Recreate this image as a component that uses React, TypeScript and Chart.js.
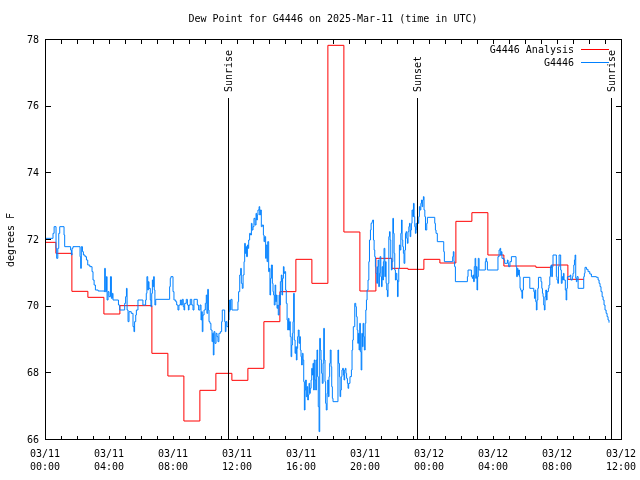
import { useEffect, useRef } from 'react';
import { Chart, registerables } from 'chart.js';

Chart.register(...registerables);

const TITLE = 'Dew Point for G4446 on 2025-Mar-11 (time in UTC)';
const Y_AXIS_LABEL = 'degrees F';
const SERIES_NAMES = ['G4446 Analysis', 'G4446'];
const SERIES_COLORS = ['#ff0000', '#0080ff'];

// hours since 2025-03-11 00:00 UTC
const X_MIN = 0;
const X_MAX = 36;
const X_STEP = 4;
const X_TICK_LABELS: string[][] = [
  ['03/11', '00:00'], ['03/11', '04:00'], ['03/11', '08:00'], ['03/11', '12:00'],
  ['03/11', '16:00'], ['03/11', '20:00'], ['03/12', '00:00'], ['03/12', '04:00'],
  ['03/12', '08:00'], ['03/12', '12:00'],
];
const Y_MIN = 66;
const Y_MAX = 78;
const Y_STEP = 2;

const EVENT_NAMES = ['Sunrise', 'Sunset', 'Sunrise'];
const EVENT_HOURS = [11.42, 23.23, 35.37];

// [hour, °F]
const ANALYSIS_POINTS: [number, number][] = [
  [0, 71.93], [0.68, 71.6], [1.68, 70.46], [2.68, 70.28], [3.68, 69.78], [4.68, 70.03],
  [5.68, 70.03], [6.68, 68.6], [7.68, 67.92], [8.68, 66.57], [9.68, 67.49], [10.68, 68.0],
  [11.68, 67.79], [12.68, 68.15], [13.68, 69.55], [14.68, 70.45], [15.68, 71.42], [16.68, 70.7],
  [17.68, 77.84], [18.68, 72.24], [19.68, 70.47], [20.68, 71.45], [21.68, 71.15], [22.68, 71.12],
  [23.68, 71.42], [24.68, 71.31], [25.68, 72.56], [26.68, 72.82], [27.68, 71.55], [28.68, 71.22],
  [29.68, 71.22], [30.68, 71.18], [31.68, 71.25], [32.68, 70.82], [33.68, 70.82],
];

const OBSERVED_POINTS: [number, number][] = [
  [0, 72.05], [0.5, 72.2], [0.57, 72.4], [0.69, 71.75], [0.73, 71.45], [0.8, 71.75], [0.86, 72.2], [0.92, 72.4],
  [1.19, 72.15], [1.23, 71.8], [1.6, 71.7], [1.65, 71.55], [1.69, 71.75], [1.75, 71.8], [2.19, 71.5], [2.23, 71.15],
  [2.27, 71.8], [2.34, 71.65], [2.4, 71.55], [2.5, 71.5], [2.59, 71.4], [2.67, 71.25], [2.8, 71.2], [2.94, 71.05],
  [3.0, 70.8], [3.07, 70.65], [3.15, 70.5], [3.32, 70.47], [3.71, 70.45], [3.73, 71.15], [3.77, 70.45], [3.84, 70.9],
  [3.88, 70.2], [3.94, 70.45], [4.0, 70.3], [4.09, 70.9], [4.15, 70.25], [4.21, 70.4], [4.25, 70.2], [4.59, 70.05],
  [4.67, 69.9], [4.98, 70.1], [5.04, 70.3], [5.09, 70.55], [5.13, 69.9], [5.19, 69.55], [5.25, 69.85],
  [5.39, 69.8], [5.5, 69.4], [5.56, 69.25], [5.6, 69.55], [5.67, 69.75], [5.71, 69.9], [5.81, 70.2], [6.12, 70.05],
  [6.29, 70.2], [6.33, 70.4], [6.37, 70.9], [6.42, 70.5], [6.46, 70.75], [6.5, 70.55], [6.58, 70.2], [6.62, 70.0],
  [6.67, 70.4], [6.71, 70.8], [6.75, 70.6], [6.79, 70.9], [6.83, 70.5], [6.87, 70.05], [6.92, 70.22], [7.79, 70.6],
  [7.83, 70.85], [7.87, 70.9], [8.0, 70.45], [8.06, 70.2], [8.17, 70.15], [8.23, 70.05], [8.31, 69.9], [8.37, 70.05],
  [8.46, 70.2], [8.52, 70.05], [8.58, 70.22], [8.64, 70.0], [8.69, 69.9], [8.73, 70.1], [8.83, 70.22], [8.9, 70.05],
  [8.96, 69.9], [9.0, 70.05], [9.08, 70.22], [9.17, 70.05], [9.25, 69.9], [9.31, 70.22], [9.52, 70.05], [9.6, 69.9],
  [9.69, 70.05], [9.75, 69.6], [9.79, 69.85], [9.83, 69.25], [9.87, 69.75], [9.94, 69.9], [10.02, 70.1], [10.08, 70.35],
  [10.12, 69.8], [10.17, 70.52], [10.21, 69.9], [10.25, 69.55], [10.31, 69.5], [10.37, 69.3], [10.44, 68.95], [10.48, 69.2],
  [10.52, 68.55], [10.56, 69.25], [10.62, 68.9], [10.69, 69.2], [10.75, 69.1], [10.81, 68.95], [10.87, 69.2], [10.96, 69.25],
  [11.04, 69.55], [11.08, 69.9], [11.23, 69.55], [11.27, 69.25], [11.31, 69.55], [11.37, 69.4], [11.46, 69.6], [11.5, 69.85],
  [11.54, 70.2], [11.58, 69.9], [11.62, 70.22], [11.69, 69.9],
  [12.06, 70.15], [12.1, 70.45], [12.17, 70.95], [12.23, 71.15], [12.27, 70.7], [12.33, 70.55], [12.38, 70.95], [12.44, 71.35],
  [12.48, 71.9], [12.52, 71.6], [12.56, 71.8], [12.6, 71.5], [12.65, 71.85], [12.69, 71.75], [12.73, 72.0], [12.79, 72.2],
  [12.85, 72.15], [12.9, 72.5], [12.94, 72.3], [13.0, 72.4], [13.06, 72.65], [13.13, 72.45], [13.19, 72.8], [13.23, 72.6],
  [13.27, 72.75], [13.31, 72.9], [13.38, 73.0], [13.42, 72.75], [13.46, 72.9], [13.52, 72.4], [13.58, 72.45], [13.65, 72.15],
  [13.69, 71.95], [13.73, 72.1], [13.79, 71.45], [13.83, 71.85], [13.88, 71.35], [13.92, 71.95], [13.98, 71.05], [14.02, 71.15],
  [14.06, 70.35], [14.1, 70.85], [14.15, 71.25], [14.21, 70.7], [14.25, 70.45], [14.29, 70.35], [14.33, 70.05], [14.38, 70.65],
  [14.42, 70.15], [14.46, 70.35], [14.5, 69.95], [14.54, 70.05], [14.58, 69.75], [14.63, 70.35], [14.67, 70.05], [14.71, 70.75],
  [14.77, 70.95], [14.81, 70.35], [14.85, 70.85], [14.9, 71.2], [14.94, 71.0],
  [14.98, 71.05], [15.04, 70.5], [15.08, 70.1], [15.13, 69.6], [15.17, 69.3], [15.21, 69.65], [15.25, 69.3], [15.29, 69.55],
  [15.33, 69.1], [15.38, 68.5], [15.42, 68.85], [15.46, 69.2], [15.5, 69.55], [15.54, 70.4], [15.58, 69.0], [15.63, 68.6],
  [15.67, 68.8], [15.71, 68.4], [15.75, 68.75], [15.79, 69.1], [15.83, 69.3], [15.88, 68.9], [15.92, 69.1], [15.96, 68.7],
  [16.0, 68.5], [16.04, 68.25], [16.08, 68.6], [16.13, 68.4], [16.17, 67.75], [16.21, 66.9], [16.25, 67.5], [16.29, 67.8],
  [16.33, 67.3], [16.38, 67.6], [16.42, 67.2], [16.46, 67.35], [16.5, 67.7], [16.54, 67.4], [16.58, 67.55], [16.63, 67.8],
  [16.67, 68.15], [16.71, 67.95], [16.75, 68.3], [16.79, 67.5], [16.83, 68.4], [16.88, 67.8], [16.92, 67.5], [16.96, 68.4],
  [17.0, 68.7], [17.04, 67.9], [17.08, 67.0], [17.13, 66.25], [17.17, 69.05], [17.21, 68.7], [17.25, 68.4], [17.29, 68.0],
  [17.33, 67.7], [17.38, 68.3], [17.42, 69.35], [17.46, 68.4], [17.5, 67.75], [17.54, 67.1], [17.58, 66.9], [17.63, 67.4],
  [17.67, 67.8], [17.71, 67.3], [17.75, 67.9], [17.79, 68.3], [17.83, 68.7], [17.88, 68.2], [17.92, 67.6], [17.96, 67.25],
  [18.0, 67.15], [18.31, 68.7], [18.35, 68.3], [18.4, 67.9], [18.44, 67.3], [18.48, 67.5], [18.52, 67.9], [18.56, 68.1],
  [18.6, 68.15], [18.65, 67.95], [18.69, 67.8], [18.73, 68.1], [18.77, 68.15], [18.81, 68.0], [18.85, 67.85], [18.9, 67.7],
  [18.94, 67.55], [18.98, 67.7], [19.06, 67.9], [19.15, 68.1], [19.19, 68.7], [19.23, 69.0], [19.27, 69.4],
  [19.36, 70.1], [19.42, 70.0], [19.46, 69.7], [19.51, 69.3], [19.55, 68.9], [19.59, 69.2], [19.63, 68.7], [19.67, 69.5],
  [19.71, 68.65], [19.76, 68.1], [19.8, 69.2], [19.84, 68.8], [19.88, 69.5], [19.92, 69.1], [19.96, 68.7], [20.01, 69.5],
  [20.05, 69.9], [20.09, 70.2], [20.13, 70.5], [20.19, 70.8], [20.24, 71.35], [20.28, 72.0], [20.34, 72.3], [20.38, 72.5],
  [20.44, 72.55], [20.48, 72.6], [20.53, 72.0], [20.57, 71.7], [20.61, 71.5], [20.65, 71.2], [20.69, 71.0], [20.74, 70.7],
  [20.78, 71.2], [20.82, 71.4], [20.86, 70.6], [20.9, 71.0], [20.94, 71.5], [20.99, 70.9], [21.03, 70.6], [21.07, 71.2],
  [21.11, 70.8], [21.15, 71.35], [21.19, 71.75], [21.24, 70.9], [21.28, 71.35], [21.32, 70.7], [21.36, 70.5], [21.4, 70.3],
  [21.44, 70.7], [21.49, 72.1], [21.53, 72.25], [21.57, 72.0], [21.61, 71.45], [21.65, 71.1], [21.69, 71.35], [21.74, 72.65],
  [21.78, 72.2], [21.82, 71.6], [21.86, 71.1], [21.9, 70.8], [21.94, 71.0], [21.99, 70.8], [22.03, 70.3], [22.07, 70.75],
  [22.11, 71.15], [22.15, 71.85], [22.19, 71.7], [22.24, 72.2], [22.28, 72.6], [22.32, 72.0], [22.36, 71.8], [22.4, 71.6],
  [22.44, 71.3], [22.49, 71.7], [22.53, 72.2], [22.57, 72.25], [22.61, 72.05], [22.65, 71.9], [22.69, 72.25], [22.74, 72.4],
  [22.78, 72.5], [22.82, 72.1], [22.86, 72.3], [22.9, 72.5], [22.94, 72.9], [22.99, 72.7], [23.03, 73.1], [23.07, 72.7],
  [23.11, 72.4], [23.15, 72.2], [23.19, 72.5], [23.24, 72.3], [23.28, 72.6], [23.32, 72.5], [23.36, 72.7], [23.4, 73.0],
  [23.44, 72.9], [23.49, 73.1], [23.53, 73.2], [23.57, 73.0], [23.61, 73.2], [23.65, 73.3], [23.69, 72.9], [23.74, 72.7],
  [23.78, 72.3], [23.86, 72.5], [23.9, 72.68],
  [24.36, 72.5], [24.4, 72.3], [24.44, 72.2], [24.52, 71.95], [24.92, 71.65], [24.96, 71.35], [25.48, 71.5], [25.52, 71.65],
  [25.56, 71.35], [25.6, 71.2], [25.65, 70.75], [26.4, 70.9], [26.44, 71.1], [26.65, 70.9], [26.71, 70.85], [26.75, 70.95],
  [26.79, 70.75], [26.83, 71.2], [26.88, 71.45], [26.92, 70.85], [26.96, 71.2], [27.0, 70.5], [27.04, 70.9], [27.08, 71.45],
  [27.13, 71.1], [27.52, 71.35], [27.56, 71.45], [27.6, 71.35], [27.65, 71.1], [28.31, 71.5], [28.38, 71.7], [28.44, 71.75],
  [28.48, 71.55], [28.52, 71.65], [28.56, 71.45], [28.69, 71.4], [28.73, 71.3], [28.9, 71.4], [28.94, 71.3], [28.98, 71.2],
  [29.06, 71.35], [29.15, 71.5], [29.44, 71.2], [29.48, 70.9], [29.52, 71.15], [29.56, 70.95], [29.6, 71.1], [29.65, 70.9],
  [29.69, 70.55], [29.73, 70.5], [29.77, 70.45], [29.81, 70.25], [29.85, 70.5], [29.9, 70.88],
  [30.3, 70.55], [30.55, 70.45], [30.59, 70.25], [30.63, 70.5], [30.67, 70.15], [30.71, 69.9], [30.75, 70.2], [30.8, 70.55],
  [30.84, 70.88], [31.0, 70.75], [31.05, 70.55], [31.09, 70.4], [31.13, 70.3], [31.17, 70.05], [31.21, 69.9], [31.25, 70.3],
  [31.3, 70.5], [31.34, 70.2], [31.38, 70.45], [31.46, 70.55], [31.5, 70.65], [31.55, 70.9], [31.59, 71.2], [31.63, 71.25],
  [31.67, 70.9], [31.71, 71.2], [31.75, 71.55], [31.96, 70.9], [32.0, 70.8], [32.05, 70.7], [32.09, 71.2], [32.13, 71.55],
  [32.23, 71.1], [32.27, 70.7], [32.32, 70.9], [32.36, 70.8], [32.4, 71.0], [32.44, 70.8], [32.52, 70.5], [32.57, 70.2],
  [32.61, 70.55], [32.65, 70.9], [32.82, 70.95], [32.86, 70.8], [32.96, 70.9], [33.0, 71.0], [33.05, 71.25], [33.09, 71.4],
  [33.13, 71.55], [33.17, 70.85], [33.21, 70.75], [33.25, 70.9], [33.32, 70.55], [33.67, 70.9], [33.71, 71.0], [33.75, 71.18],
  [33.84, 71.12], [33.94, 71.05], [34.05, 70.98], [34.15, 70.9], [34.46, 70.88], [34.57, 70.8], [34.63, 70.7], [34.69, 70.6],
  [34.75, 70.45], [34.82, 70.3], [34.88, 70.2], [34.94, 70.05], [35.0, 69.9], [35.07, 69.8], [35.13, 69.7], [35.19, 69.6],
  [35.25, 69.52],
];

const FONT = '"DejaVu Sans Mono", monospace';

const gnuplotDecor = {
  id: 'gnuplotDecor',
  afterDatasetsDraw(chart: any) {
    const { ctx, chartArea } = chart;
    const xs = chart.scales.x;
    const ys = chart.scales.y;
    const L = Math.round(chartArea.left);
    const R = Math.round(chartArea.right);
    const T = Math.round(chartArea.top);
    const B = Math.round(chartArea.bottom);
    ctx.save();
    ctx.strokeStyle = '#000';
    ctx.fillStyle = '#000';
    ctx.lineWidth = 1;
    ctx.font = `10px ${FONT}`;

    // sunrise / sunset markers
    EVENT_HOURS.forEach((h, i) => {
      const px = Math.round(xs.getPixelForValue(h)) + 0.5;
      ctx.beginPath();
      ctx.moveTo(px, B);
      ctx.lineTo(px, T + 58);
      ctx.stroke();
      ctx.save();
      ctx.translate(px + 1, T + 52);
      ctx.rotate(-Math.PI / 2);
      ctx.textAlign = 'left';
      ctx.textBaseline = 'middle';
      ctx.fillText(EVENT_NAMES[i], 0, 0);
      ctx.restore();
    });

    // frame
    ctx.strokeRect(L + 0.5, T - 0.5, R - L, B - T);

    // inward ticks, mirrored
    ctx.beginPath();
    for (let h = X_MIN; h <= X_MAX; h += 1) {
      const px = Math.round(xs.getPixelForValue(h)) + 0.5;
      ctx.moveTo(px, B);
      ctx.lineTo(px, B - 4);
      ctx.moveTo(px, T);
      ctx.lineTo(px, T + 4);
    }
    for (let v = Y_MIN; v <= Y_MAX; v += Y_STEP) {
      const py = Math.round(ys.getPixelForValue(v)) - 0.5;
      ctx.moveTo(L, py);
      ctx.lineTo(L + 6, py);
      ctx.moveTo(R + 1, py);
      ctx.lineTo(R - 5, py);
    }
    ctx.stroke();

    // legend
    SERIES_NAMES.forEach((name, i) => {
      const cy = T + 10 + i * 13;
      ctx.fillStyle = '#000';
      ctx.textAlign = 'right';
      ctx.textBaseline = 'middle';
      ctx.fillText(name, R - 47, cy);
      ctx.strokeStyle = SERIES_COLORS[i];
      ctx.beginPath();
      ctx.moveTo(R - 40, Math.round(cy) - 0.5);
      ctx.lineTo(R - 12, Math.round(cy) - 0.5);
      ctx.stroke();
    });
    ctx.restore();
  },
};

export default function App() {
  const canvasRef = useRef<HTMLCanvasElement | null>(null);

  useEffect(() => {
    const canvas = canvasRef.current;
    if (!canvas) return;
    const chart = new Chart(canvas, {
      type: 'line',
      data: {
        datasets: [
          {
            label: SERIES_NAMES[0],
            data: ANALYSIS_POINTS.map(([x, y]) => ({ x, y })),
            borderColor: SERIES_COLORS[0],
            borderWidth: 1,
            pointRadius: 0,
            stepped: true,
            fill: false,
            order: 2,
          },
          {
            label: SERIES_NAMES[1],
            data: OBSERVED_POINTS.map(([x, y]) => ({ x, y })),
            borderColor: SERIES_COLORS[1],
            borderWidth: 1,
            pointRadius: 0,
            stepped: true,
            fill: false,
            order: 1,
          },
        ],
      },
      options: {
        animation: false,
        responsive: false,
        devicePixelRatio: 1,
        layout: { padding: { left: 0, right: 19, top: 0, bottom: 0 } },
        plugins: {
          legend: { display: false },
          tooltip: { enabled: false },
          title: {
            display: true,
            text: TITLE,
            fullSize: false,
            color: '#000',
            font: { family: FONT, size: 10, weight: 'normal', lineHeight: 1.2 },
            padding: { top: 13, bottom: 15 },
          },
        },
        scales: {
          x: {
            type: 'linear',
            min: X_MIN,
            max: X_MAX,
            grid: { display: false, drawTicks: false },
            border: { display: false },
            ticks: {
              stepSize: X_STEP,
              autoSkip: false,
              maxRotation: 0,
              minRotation: 0,
              padding: 8,
              color: '#000',
              font: { family: FONT, size: 10, lineHeight: 1.3 },
              callback: (value: any) => X_TICK_LABELS[Math.round((Number(value) - X_MIN) / X_STEP)] ?? '',
            },
            afterFit: (scale: any) => {
              scale.height = 40;
              scale.paddingLeft = 0;
              scale.paddingRight = 0;
            },
          },
          y: {
            type: 'linear',
            min: Y_MIN,
            max: Y_MAX,
            grid: { display: false, drawTicks: false },
            border: { display: false },
            title: {
              display: true,
              text: Y_AXIS_LABEL,
              color: '#000',
              font: { family: FONT, size: 10, lineHeight: 1.2 },
              padding: { top: 5, bottom: 0 },
            },
            ticks: {
              stepSize: Y_STEP,
              padding: 6,
              color: '#000',
              font: { family: FONT, size: 10 },
            },
            afterFit: (scale: any) => {
              scale.width = 45;
              scale.paddingTop = 0;
              scale.paddingBottom = 0;
            },
          },
        },
      },
      plugins: [gnuplotDecor],
    });
    return () => chart.destroy();
  }, []);

  return (
    <div style={{ position: 'absolute', left: 0, top: 0, width: 640, height: 480, background: '#fff' }}>
      <canvas ref={canvasRef} width={640} height={480} style={{ width: 640, height: 480 }} />
    </div>
  );
}
